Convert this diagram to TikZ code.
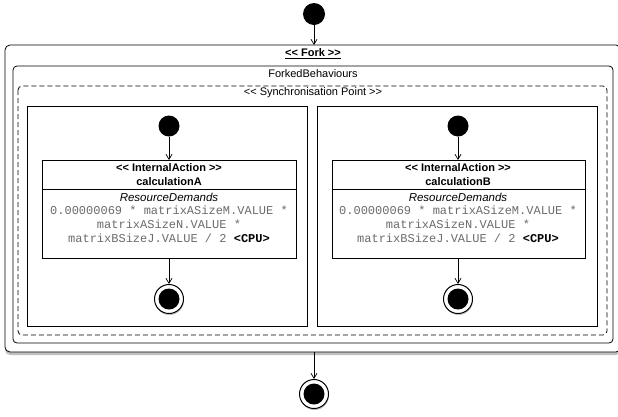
\documentclass[tikz,border=0pt]{standalone}
\usepackage{fontspec}
\setmainfont{Liberation Sans}
\setmonofont{Liberation Mono}
\usetikzlibrary{arrows.meta,shadows}
\newcommand\lsh{<\kern0pt<}
\newcommand\rsh{>\kern0pt>}
\definecolor{monogray}{HTML}{6C6C6C}
\tikzset{
  ln/.style={draw=black, line width=0.8pt},
  flow/.style={draw=black, line width=0.7pt, -{Straight Barb[length=5pt,width=6pt,line width=0.7pt]}},
  startdot/.style={circle, fill=black, inner sep=0pt, minimum size=22pt},
  enddot/.style={circle, draw=black, line width=1pt, fill=white, inner sep=0pt, minimum size=29pt,
     path picture={\fill[black] (path picture bounding box.center) circle (10.5pt);},
     drop shadow={shadow xshift=0.5pt, shadow yshift=-1.5pt, opacity=0.5}},
  lbl/.style={inner sep=0pt, anchor=center, font=\fontsize{11}{13}\selectfont},
  monotxt/.style={inner sep=0pt, anchor=center, align=center, font=\ttfamily\fontsize{12}{14}\selectfont, text=monogray},
}
\begin{document}
\begin{tikzpicture}[x=1pt,y=-1pt]
\useasboundingbox (0,0) rectangle (618,416);
% outer fork
\node[startdot] (s0) at (314,14) {};
\path[ln, fill=white, rounded corners=5pt, drop shadow={shadow xshift=0pt, shadow yshift=-3pt, opacity=0.5}]
  (5,45) rectangle (621,352);
\coordinate (forktop) at (314,45);
\coordinate (forkbot) at (314,352);
\node[lbl, font=\bfseries\fontsize{11}{13}\selectfont] (forktitle) at (313,54) {\underline{\lsh{} Fork \rsh}};
\draw[ln, rounded corners=4pt] (13,66) rectangle (613,343);
\node[lbl] (fbtitle) at (313,74) {ForkedBehaviours};
\draw[ln, dashed, dash pattern=on 5pt off 3pt, rounded corners=4pt] (18,86) rectangle (607,335);
\node[lbl] (sptitle) at (313,93) {\lsh{} Synchronisation Point \rsh};
% inner behaviours
\foreach \cx/\bl/\br/\al/\ar/\nm in {169/27/307/42/296/A, 458/317/597/332/585/B}{
  \draw[ln] (\bl,106) rectangle (\br,326);
  \node[startdot, minimum size=21pt] (s\nm) at (\cx,126) {};
  \draw[ln] (\al,160) rectangle (\ar,258);
  \draw[ln] (\al,189) -- (\ar,189);
  \coordinate (at\nm) at (\cx,160);
  \coordinate (ab\nm) at (\cx,258);
  \node[lbl, font=\bfseries\fontsize{11}{13}\selectfont] (st\nm) at (\cx,168) {\lsh{} InternalAction \rsh};
  \node[lbl, font=\bfseries\fontsize{11}{13}\selectfont] (nm\nm) at (\cx,182) {calculation\nm};
  \node[lbl, font=\itshape\fontsize{11.5}{13}\selectfont] (rd\nm) at (\cx,197) {ResourceDemands};
  \node[monotxt] (m1\nm) at (\cx,210) {0.00000069 * matrixASizeM.VALUE *};
  \node[monotxt] (m2\nm) at (\cx,224) {matrixASizeN.VALUE *};
  \node[monotxt] (m3\nm) at (\cx,238) {matrixBSizeJ.VALUE / 2 \textcolor{black}{\bfseries <CPU>}};
  \node[enddot] (e\nm) at (\cx,299) {};
  \draw[flow] (s\nm) -- (at\nm);
  \draw[flow] (ab\nm) -- (e\nm);
}
\node[enddot] (e0) at (314,394) {};
\draw[flow] (s0) -- (forktop);
\draw[flow] (forkbot) -- (e0);
\end{tikzpicture}
\end{document}
